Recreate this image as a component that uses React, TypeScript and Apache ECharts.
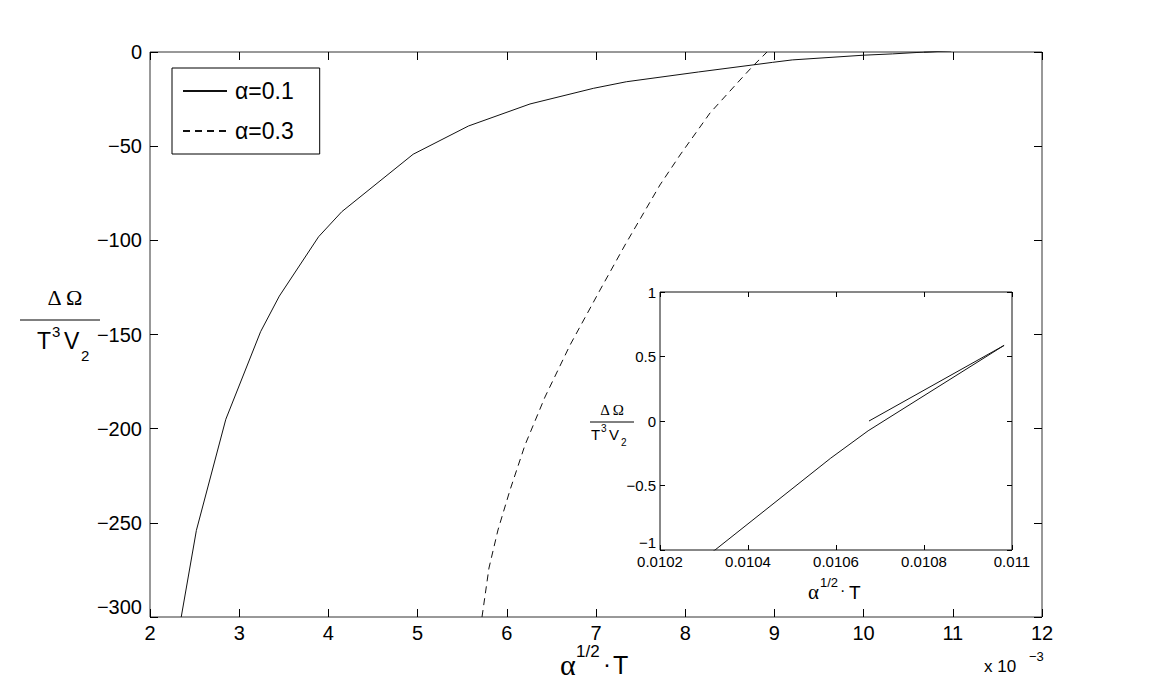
import React, { useEffect, useRef } from "react";
import * as echarts from "echarts";

// alpha = 0.1 curve (x in units of 1e-3)
const alpha01X = [2.35, 2.52, 2.85, 3.24, 3.45, 3.89, 4.15, 4.95, 5.57, 6.26, 6.97, 7.34, 8.15, 8.98, 9.2, 10.0, 10.325, 10.588, 10.673, 10.982, 10.675];
const alpha01Y = [-300, -254, -195, -148.5, -129.6, -98.1, -84.8, -54.3, -39.3, -27.6, -19.3, -15.8, -10.6, -5.5, -4.2, -1.7, -1.0, -0.288, -0.076, 0.586, 0];

// alpha = 0.3 curve (x in units of 1e-3)
const alpha03X = [5.722, 5.8, 5.901, 6.036, 6.204, 6.428, 6.709, 7.045, 7.325, 7.717, 7.942, 8.278, 8.614, 8.76, 8.917];
const alpha03Y = [-300, -274, -253.8, -232.6, -208.7, -183.2, -155.6, -126.4, -102.5, -70.6, -54.7, -32.4, -14.9, -7.4, 0];

const seriesNames = ["α=0.1", "α=0.3"];
const xScale = 1e-3;

const FONT = "'Liberation Sans', Arial, Helvetica, sans-serif";
const SERIF = "'Liberation Serif', 'Times New Roman', serif";

const minusFmt = (v: number) => String(v).replace("-", "\u2212");

export default function App() {
  const ref = useRef<HTMLDivElement>(null);
  useEffect(() => {
    if (!ref.current) return;
    const chart = echarts.init(ref.current, undefined, { renderer: "svg" });
    const d01 = alpha01X.map((x, i) => [x, alpha01Y[i]]);
    const d03 = alpha03X.map((x, i) => [x, alpha03Y[i]]);
    const dInset = alpha01X.map((x, i) => [x * xScale, alpha01Y[i]]);

    const tickStyle = { color: "#000", width: 1 };
    const axisCommon = {
      type: "value",
      axisLine: { show: false, onZero: false },
      splitLine: { show: false },
      axisTick: { inside: true, length: 8, lineStyle: tickStyle },
    };
    const insetAxis = {
      type: "value",
      axisLine: { show: false, onZero: false },
      splitLine: { show: false },
      axisTick: { inside: true, length: 5, lineStyle: tickStyle },
    };

    const txt = (text: string, x: number, y: number, fontSize: number, family = FONT, align = "left") => ({
      type: "text",
      x,
      y,
      style: { text, fontSize, fontFamily: family, fill: "#000", align, verticalAlign: "middle" },
    });

    const option: any = {
      animation: false,
      backgroundColor: "#fff",
      legend: {
        data: seriesNames,
        orient: "vertical",
        left: 172,
        top: 68,
        padding: [11, 26, 11, 10],
        itemWidth: 44,
        itemHeight: 14,
        itemGap: 16,
        borderColor: "#000",
        borderWidth: 1,
        backgroundColor: "#fff",
        itemStyle: { opacity: 0 },
        textStyle: { fontSize: 23, color: "#000", fontFamily: FONT, lineHeight: 24, padding: [0, 0, 0, 3] },
      },
      grid: [
        { left: 150, top: 52, width: 892, height: 565, show: true, borderColor: "#333", borderWidth: 1, backgroundColor: "transparent" },
        { left: 660, top: 292, width: 352, height: 258, show: true, borderColor: "#111", borderWidth: 1, backgroundColor: "transparent" },
      ],
      xAxis: [
        { ...axisCommon, gridIndex: 0, min: 2, max: 12, interval: 1, position: "bottom",
          axisLabel: { fontSize: 20, margin: 6, color: "#000", fontFamily: FONT } },
        { ...axisCommon, gridIndex: 0, min: 2, max: 12, interval: 1, position: "top", axisLabel: { show: false } },
        { ...insetAxis, gridIndex: 1, min: 0.0102, max: 0.011, interval: 0.0002, position: "bottom",
          axisLabel: { fontSize: 15, margin: 4, color: "#000", fontFamily: FONT,
            formatter: (v: number) => String(Number(v.toFixed(4))) } },
        { ...insetAxis, gridIndex: 1, min: 0.0102, max: 0.011, interval: 0.0002, position: "top", axisLabel: { show: false } },
      ],
      yAxis: [
        { ...axisCommon, gridIndex: 0, min: -300, max: 0, interval: 50, position: "left",
          axisLabel: { fontSize: 20, margin: 8, color: "#000", fontFamily: FONT, formatter: minusFmt,
            verticalAlignMinLabel: "bottom" } },
        { ...axisCommon, gridIndex: 0, min: -300, max: 0, interval: 50, position: "right", axisLabel: { show: false } },
        { ...insetAxis, gridIndex: 1, min: -1, max: 1, interval: 0.5, position: "left",
          axisLabel: { fontSize: 15, margin: 4, color: "#000", fontFamily: FONT, formatter: minusFmt,
            verticalAlignMinLabel: "bottom" } },
        { ...insetAxis, gridIndex: 1, min: -1, max: 1, interval: 0.5, position: "right", axisLabel: { show: false } },
      ],
      series: [
        { type: "line", name: seriesNames[0], xAxisIndex: 0, yAxisIndex: 0, data: d01, symbol: "none", clip: true,
          itemStyle: { color: "#111" }, lineStyle: { color: "#111", width: 1 } },
        { type: "line", name: seriesNames[1], xAxisIndex: 0, yAxisIndex: 0, data: d03, symbol: "none", clip: true,
          itemStyle: { color: "#111" }, lineStyle: { color: "#111", width: 1, type: [7, 5] } },
        { type: "line", name: "inset", xAxisIndex: 2, yAxisIndex: 2, data: dInset, symbol: "none", clip: true,
          itemStyle: { color: "#111" }, lineStyle: { color: "#111", width: 1 } },
      ],
      graphic: [
        // main y title
        txt("Δ Ω", 65, 297, 22, SERIF, "center"),
        { type: "line", shape: { x1: 20, y1: 320, x2: 100, y2: 320 }, style: { stroke: "#000", lineWidth: 1 } },
        txt("T", 37, 341, 23),
        txt("3", 52, 331, 15),
        txt("V", 64, 341, 23),
        txt("2", 81, 355, 15),
        // main x title
        txt("α", 560, 664, 30, SERIF),
        txt("1/2", 576, 651, 17),
        txt("·", 603, 663, 24),
        txt("T", 613, 665, 25),
        // x 10^-3
        txt("x 10", 984, 666, 17),
        txt("\u22123", 1029, 656, 13),
        // inset y title
        txt("Δ Ω", 612, 410, 15, SERIF, "center"),
        { type: "line", shape: { x1: 590, y1: 422, x2: 634, y2: 422 }, style: { stroke: "#000", lineWidth: 1 } },
        txt("T", 591, 434, 15),
        txt("3", 601, 428, 10),
        txt("V", 609, 434, 15),
        txt("2", 621, 442, 10),
        // inset x title
        txt("α", 808, 592, 21, SERIF),
        txt("1/2", 820, 582, 13),
        txt("·", 840, 590, 16),
        txt("T", 849, 592, 19),
      ],
    };
    chart.setOption(option);
    return () => chart.dispose();
  }, []);
  return <div ref={ref} style={{ position: "absolute", left: 0, top: 0, width: 1152, height: 695 }} />;
}
